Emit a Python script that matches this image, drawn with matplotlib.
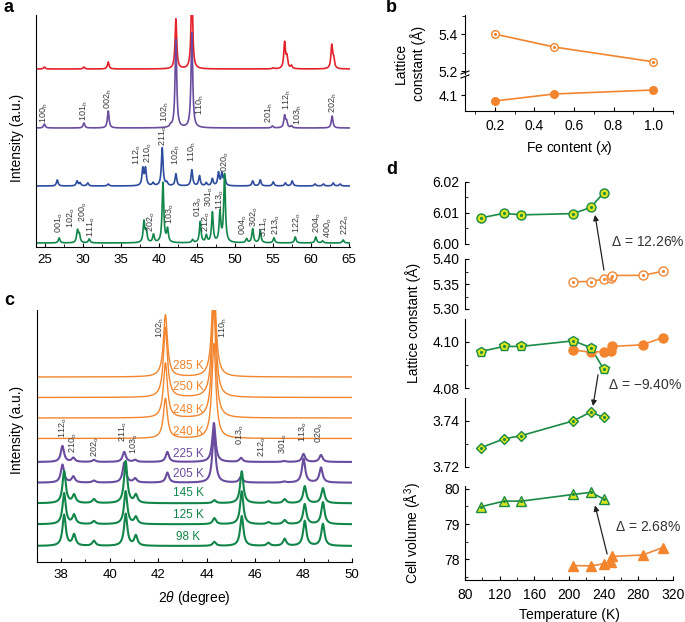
import numpy as np
import matplotlib
matplotlib.use("Agg")
import matplotlib.pyplot as plt
from matplotlib.patches import ConnectionPatch
from matplotlib.lines import Line2D
from matplotlib.ticker import MultipleLocator, FormatStrFormatter

plt.rcParams['font.family'] = ['Liberation Sans', 'DejaVu Sans']
plt.rcParams['mathtext.fontset'] = 'custom'
plt.rcParams['mathtext.rm'] = 'Liberation Sans'
plt.rcParams['mathtext.it'] = 'Liberation Sans:italic'

RED = '#e3222b'
PURPLE = '#6a4c9f'
BLUE = '#2d4c9e'
GREEN = '#12864a'
ORANGE = '#f2852e'
LIME = '#d9e51f'
LBL = '#3a3a3a'

# ---------------- panel a : XRD at room temperature (peak lists) ----------------
a_red_base = 178
a_red_pos = [24.9, 30.1, 33.3, 42.2, 44.3, 55.0, 56.5, 56.8, 57.4, 62.7, 62.95]
a_red_hgt = [2, 2, 7, 50, 80, 1, 26, 11, 3, 23, 9]

a_pur_base = 119
a_pur_pos = [24.9, 30.1, 33.3, 41.5, 42.2, 44.3, 54.9, 56.5, 56.75, 57.4, 62.75]
a_pur_hgt = [4, 5, 17, 2, 88, 95, 2, 12, 6, 2, 12]

a_blu_base = 61
a_blu_pos = [26.6, 29.2, 29.6, 30.6, 33.3, 37.85, 38.2, 39.2, 40.4, 41.0, 42.2, 44.3, 45.3,
             46.2, 47.0, 47.8, 48.25, 48.6, 52.3, 53.3, 55.0, 56.6, 57.5, 60.5, 61.6, 62.9, 63.8]
a_blu_hgt = [6, 5, 3, 3, 2, 17, 17, 3, 38, 3, 12, 16, 10,
             3, 7, 13, 12, 9, 5, 6, 4, 3, 5, 2, 2, 3, 2]

a_grn_base = 4
a_grn_pos = [26.85, 29.25, 29.5, 30.8, 38.0, 38.3, 39.25, 40.5, 41.1, 44.4, 45.4, 46.2, 47.0,
             48.0, 48.6, 51.5, 52.3, 53.3, 55.1, 57.9, 60.6, 61.5, 64.2]
a_grn_hgt = [5, 12, 8, 4, 21, 11, 8, 60, 13, 3, 21, 7, 30,
             30, 68, 4, 14, 12, 5, 6, 6, 2, 3]

# hkl labels: (index, phase, 2theta, label bottom)
a_labels = [
    ('100', 'h', 24.9, 124), ('101', 'h', 30.1, 126), ('002', 'h', 33.3, 138),
    ('102', 'h', 40.8, 125), ('110', 'h', 45.4, 132), ('201', 'h', 54.5, 124),
    ('112', 'h', 56.8, 137), ('103', 'h', 58.3, 122), ('202', 'h', 62.9, 134),
    ('112', 'o', 37.1, 82), ('210', 'o', 38.5, 84), ('211', 'o', 40.5, 101),
    ('102', 'h', 42.2, 82), ('110', 'h', 44.3, 85), ('020', 'o', 48.7, 75),
    ('001', 'o', 26.9, 14), ('102', 'o', 28.4, 19), ('200', 'o', 30.0, 25),
    ('111', 'o', 31.1, 10), ('202', 'o', 39.0, 15), ('103', 'o', 41.4, 23),
    ('013', 'o', 45.1, 30), ('212', 'o', 46.25, 15), ('301', 'o', 46.65, 40),
    ('113', 'o', 48.05, 37), ('004', 'o', 51.1, 12), ('302', 'o', 52.45, 20),
    ('311', 'o', 53.8, 10), ('213', 'o', 55.4, 12), ('122', 'o', 58.1, 14),
    ('204', 'o', 60.8, 14), ('400', 'o', 62.3, 9), ('222', 'o', 64.5, 12),
]

# ---------------- panel c : XRD vs temperature ----------------
c_temps = ['285 K', '250 K', '248 K', '240 K', '225 K', '205 K', '145 K', '125 K', '98 K']
c_bases = [185, 164.5, 144, 123.5, 100, 79.3, 58.7, 37.7, 16]
c_label_y = [196, 174.7, 152, 130.3, 108, 88, 68.7, 47, 25.3]
c_colors = [ORANGE] * 4 + [PURPLE] * 2 + [GREEN] * 3

c_hex_pos = [42.3, 44.3]
c_hex_hgt = [[62, 100], [70, 110], [55, 110], [40, 95]]

c_pur_pos = [38.05, 38.5, 39.35, 40.6, 41.05, 42.38, 44.3, 45.42, 47.2, 48.0, 48.72]
c_pur_hgt = [[16, 4, 2, 10, 2, 10, 39, 4, 1, 8, 7],
             [18, 6, 2, 20, 4, 10, 50, 6, 1, 24, 15]]

c_grn_pos = [38.12, 38.53, 39.35, 40.66, 41.08, 44.32, 45.45, 46.55, 47.22, 48.05, 48.8]
c_grn_hgt = [[32, 8, 4, 42, 8, 3, 32, 2, 4, 17, 15],
             [31, 9, 3, 33, 7, 6, 33, 2, 4, 20, 22],
             [31, 11, 5, 32, 10, 4, 30, 3, 7, 25, 22]]

c_labels = [
    ('102', 'h', 42.07, 224), ('110', 'h', 44.7, 224),
    ('112', 'o', 38.1, 124), ('210', 'o', 38.5, 109), ('202', 'o', 39.4, 105),
    ('211', 'o', 40.55, 120), ('103', 'o', 41.0, 108), ('013', 'o', 45.37, 117),
    ('212', 'o', 46.3, 105), ('301', 'o', 47.15, 108), ('113', 'o', 47.97, 120),
    ('020', 'o', 48.66, 119),
]

# ---------------- panel b : lattice constants vs Fe content ----------------
fe_x = [0.2, 0.5, 1.0]
fe_c = [5.40, 5.33, 5.25]
fe_a = [4.088, 4.102, 4.110]

# ---------------- panel d : lattice constants vs temperature ----------------
t_orth = [98, 125, 145, 205, 225, 240]
c_orth = [6.0084, 6.0099, 6.0094, 6.0098, 6.0118, 6.0165]
a_orth = [4.0957, 4.0979, 4.0979, 4.1003, 4.0974, 4.0882]
b_orth = [3.7283, 3.7322, 3.7336, 3.7400, 3.7438, 3.7415]
v_orth = [79.49, 79.65, 79.65, 79.84, 79.90, 79.71]

t_hex = [205, 225, 240, 248, 250, 285, 308]
c_hex = [5.3546, 5.3550, 5.3600, 5.3627, 5.3670, 5.3673, 5.3753]
a_hex = [4.0964, 4.0954, 4.0957, 4.0961, 4.0979, 4.0986, 4.1017]
v_hex = [77.82, 77.81, 77.87, 77.93, 78.08, 78.12, 78.33]

W, H = 685, 622


def px_rect(l, t, r, b):
    return [l / W, 1 - b / H, (r - l) / W, (b - t) / H]


def profile(x, base, pos, hgt, wid):
    y = np.full_like(x, float(base))
    for p, h in zip(pos, hgt):
        y += h / (1 + ((x - p) / wid) ** 2)
    return y


def hkl(ax, idx, phase, x, y, fs=6.5):
    ax.text(x, y, idx + r'$_{\mathrm{' + phase + '}}$', rotation=90, ha='center',
            va='bottom', fontsize=fs, color=LBL)


def style_xrd(ax):
    for s in ['top', 'right']:
        ax.spines[s].set_visible(False)
    ax.set_yticks([])
    ax.tick_params(axis='x', direction='in', length=3, labelsize=9.5, pad=5)
    ax.tick_params(axis='x', which='minor', direction='in', length=2)


fig = plt.figure(figsize=(6.85, 6.22), dpi=100)

# ---- a ----
ax_a = fig.add_axes(px_rect(36, 15, 350, 247))
xa = np.linspace(23.8, 65.1, 4000)
for base, pos, hgt, col in [(a_red_base, a_red_pos, a_red_hgt, RED),
                            (a_pur_base, a_pur_pos, a_pur_hgt, PURPLE),
                            (a_blu_base, a_blu_pos, a_blu_hgt, BLUE),
                            (a_grn_base, a_grn_pos, a_grn_hgt, GREEN)]:
    ax_a.plot(xa, profile(xa, base, pos, hgt, 0.13), color=col, lw=1.2)
for idx, ph, x, y in a_labels:
    hkl(ax_a, idx, ph, x, y)
ax_a.set_xlim(23.8, 65.1)
ax_a.set_ylim(0, 232)
ax_a.xaxis.set_major_locator(MultipleLocator(5))
ax_a.xaxis.set_minor_locator(MultipleLocator(2.5))
style_xrd(ax_a)
fig.text(17 / W, 1 - 138 / H, 'Intensity (a.u.)', rotation=90, ha='center', va='center', fontsize=10)

# ---- c ----
ax_c = fig.add_axes(px_rect(37, 310, 352, 562))
xc = np.linspace(37, 50, 4000)
for i in range(len(c_temps)):
    if i < 4:
        y = profile(xc, c_bases[i], c_hex_pos, c_hex_hgt[i], 0.1)
        lw = 1.0
    elif i < 6:
        y = profile(xc, c_bases[i], c_pur_pos, c_pur_hgt[i - 4], 0.08)
        lw = 1.5
    else:
        y = profile(xc, c_bases[i], c_grn_pos, c_grn_hgt[i - 6], 0.08)
        lw = 1.5
    ax_c.plot(xc, y, color=c_colors[i], lw=lw)
    ax_c.text(43.25, c_label_y[i], c_temps[i], color=c_colors[i], fontsize=8.5,
              ha='center', va='center')
for idx, ph, x, y in c_labels:
    hkl(ax_c, idx, ph, x, y)
ax_c.set_xlim(37, 50)
ax_c.set_ylim(0, 252)
ax_c.xaxis.set_major_locator(MultipleLocator(2))
ax_c.xaxis.set_minor_locator(MultipleLocator(1))
style_xrd(ax_c)
ax_c.set_xlabel(r'2$\mathit{\theta}$ (degree)', fontsize=10, labelpad=6)
fig.text(17 / W, 1 - 430 / H, 'Intensity (a.u.)', rotation=90, ha='center', va='center', fontsize=10)

# ---- b ----
ax_bu = fig.add_axes(px_rect(465, 15, 673, 74))
ax_bl = fig.add_axes(px_rect(465, 77, 673, 111))
ax_bu.plot(fe_x, fe_c, color=ORANGE, lw=1.2, marker='o', ms=5.5, mfc='white', mec=ORANGE, mew=1)
ax_bu.plot(fe_x, fe_c, ls='none', marker='o', ms=1.3, color=ORANGE)
ax_bl.plot(fe_x, fe_a, color=ORANGE, lw=1.2, marker='o', ms=5.5, mfc=ORANGE, mec=ORANGE)
ax_bu.set_ylim(5.184, 5.503)
ax_bl.set_ylim(4.068, 4.136)
for ax in (ax_bu, ax_bl):
    ax.set_xlim(0.05, 1.1)
    for s in ['top', 'right']:
        ax.spines[s].set_visible(False)
    ax.tick_params(axis='y', direction='out', length=3, labelsize=10, pad=2)
    ax.tick_params(axis='x', direction='in', length=3, labelsize=10, pad=6)
    ax.tick_params(axis='both', which='minor', length=2)
ax_bu.spines['bottom'].set_visible(False)
ax_bu.set_xticks([])
ax_bu.set_yticks([5.2, 5.4])
ax_bu.set_yticklabels(['5.2', '5.4'])
ax_bu.yaxis.set_minor_locator(MultipleLocator(0.1))
ax_bl.set_yticks([4.1])
ax_bl.set_yticklabels(['4.1'])
ax_bl.xaxis.set_major_locator(MultipleLocator(0.2))
ax_bl.xaxis.set_minor_locator(MultipleLocator(0.1))
ax_bl.xaxis.set_major_formatter(FormatStrFormatter('%.1f'))
ax_bl.set_xticks([0.2, 0.4, 0.6, 0.8, 1.0])
ax_bl.set_xlabel(r'Fe content ($\mathit{x}$)', fontsize=10, labelpad=4)
for yy in (72.5, 76.5):
    fig.add_artist(Line2D([461 / W, 469 / W], [1 - (yy + 1.5) / H, 1 - (yy - 1.5) / H],
                          color='k', lw=0.8))
fig.text(410 / W, 1 - 63 / H, 'Lattice\nconstant (Å)', rotation=90, ha='center',
         va='center', fontsize=10, linespacing=1.1)

# ---- d ----
d_rects = [(182, 244), (259, 309), (319, 388), (398, 467), (486, 580)]
d_lims = [(6.00, 6.02), (5.30, 5.40), (4.08, 4.1097), (3.72, 3.7499), (77.41, 80.08)]
d_major = [0.01, 0.05, 0.02, 0.02, 1]
d_minor = [0.005, 0.025, 0.01, 0.01, 0.5]
d_fmt = ['%.2f', '%.2f', '%.2f', '%.2f', '%d']
axd = []
for (t, b), lim, mj, mn, fm in zip(d_rects, d_lims, d_major, d_minor, d_fmt):
    ax = fig.add_axes(px_rect(465, t, 673, b))
    ax.set_xlim(80, 320)
    ax.set_ylim(*lim)
    ax.patch.set_visible(False)
    for s in ['top', 'right']:
        ax.spines[s].set_visible(False)
    ax.yaxis.set_major_locator(MultipleLocator(mj))
    ax.yaxis.set_minor_locator(MultipleLocator(mn))
    ax.yaxis.set_major_formatter(FormatStrFormatter(fm))
    ax.tick_params(axis='both', direction='in', length=3, labelsize=10, pad=4)
    ax.tick_params(axis='both', which='minor', direction='in', length=2)
    axd.append(ax)
for ax in axd[:-1]:
    ax.spines['bottom'].set_visible(False)
    ax.set_xticks([])
axd[1].set_yticks([5.30, 5.35, 5.40])
axd[2].set_yticks([4.08, 4.10])
axd[3].set_yticks([3.72, 3.74])
axd[4].set_yticks([78, 79, 80])
axd[4].xaxis.set_major_locator(MultipleLocator(40))
axd[4].xaxis.set_minor_locator(MultipleLocator(20))
axd[4].tick_params(axis='x', pad=6)
axd[4].set_xlabel('Temperature (K)', fontsize=10, labelpad=4)

GLINE = '#1a8a45'
OLINE = '#f08a3a'


def orth(ax, y, mk, ms):
    ax.plot(t_orth, y, color=GLINE, lw=1.2, zorder=2)
    ax.plot(t_orth, y, ls='none', marker=mk, ms=ms, mfc=LIME, mec=GLINE, mew=1, zorder=3,
            clip_on=False)
    ax.plot(t_orth, y, ls='none', marker='o', ms=1.2, color=GLINE, zorder=4, clip_on=False)


orth(axd[0], c_orth, 'o', 6.5)
orth(axd[2], a_orth, 'p', 7)
orth(axd[3], b_orth, 'D', 5.5)
orth(axd[4], v_orth, '^', 7)

axd[1].plot(t_hex, c_hex, color=OLINE, lw=1.2, marker='o', ms=6.5, mfc='white', mec=OLINE, mew=1)
axd[1].plot(t_hex, c_hex, ls='none', marker='o', ms=1.3, color=OLINE)
axd[2].plot(t_hex, a_hex, color=OLINE, lw=1.2, marker='o', ms=6.5, mfc=ORANGE, mec=ORANGE,
            zorder=2.5)
axd[4].plot(t_hex, v_hex, color=OLINE, lw=1.2, marker='^', ms=7, mfc=ORANGE, mec=ORANGE)

arrows = [(axd[1], (240.3, 5.378), axd[0], (230, 6.0094)),
          (axd[2], (233.5, 4.0857), axd[3], (227.7, 3.7464)),
          (axd[4], (244, 78.15), axd[4], (230, 79.53))]
for axA, pA, axB, pB in arrows:
    con = ConnectionPatch(xyA=pA, coordsA=axA.transData, xyB=pB, coordsB=axB.transData,
                          arrowstyle='-|>', mutation_scale=8, color='#222222', lw=0.9)
    fig.add_artist(con)

for x, y, s in [(611, 242, r'$\mathit{\Delta}$ = 12.26%'),
                (608, 385, r'$\mathit{\Delta}$ = −9.40%'),
                (615, 527, r'$\mathit{\Delta}$ = 2.68%')]:
    fig.text(x / W, 1 - y / H, s, ha='left', va='center', fontsize=10, color='#333333')

fig.text(413 / W, 1 - 323 / H, 'Lattice constant (Å)', rotation=90, ha='center',
         va='center', fontsize=10)
fig.text(413 / W, 1 - 533 / H, r'Cell volume (Å$^3$)', rotation=90, ha='center',
         va='center', fontsize=10)

# panel letters
for x, y, s in [(4, 8, 'a'), (386, 8, 'b'), (4, 300, 'c'), (386, 170, 'd')]:
    fig.text(x / W, 1 - y / H, s, fontsize=13, fontweight='bold', ha='left', va='center')

fig.savefig('out.png', dpi=100)
